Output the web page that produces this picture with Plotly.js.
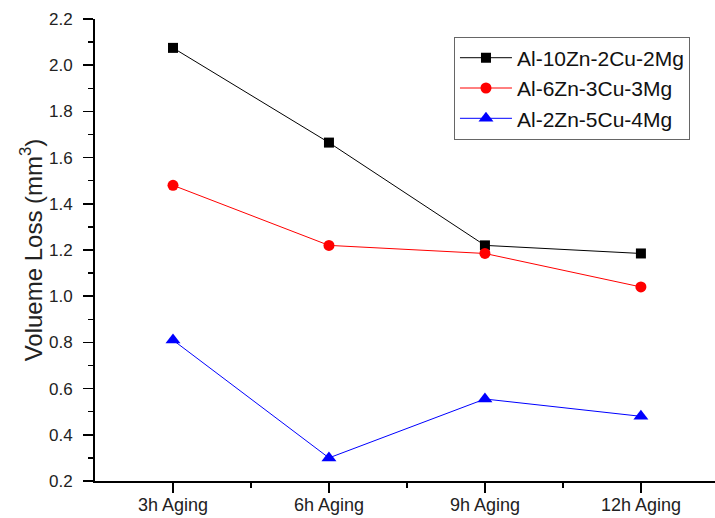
<!DOCTYPE html>
<html>
<head>
<meta charset="utf-8">
<script src="https://cdn.plot.ly/plotly-3.0.1.min.js"></script>
<style>html,body{margin:0;padding:0;background:#fff;}#chart{width:715px;height:518px;}</style>
</head>
<body>
<div id="chart"></div>
<script>
const categories = ["3h Aging", "6h Aging", "9h Aging", "12h Aging"];
const alloy1Name = "Al-10Zn-2Cu-2Mg";
const alloy1 = [2.075, 1.665, 1.22, 1.185];
const alloy2Name = "Al-6Zn-3Cu-3Mg";
const alloy2 = [1.48, 1.22, 1.185, 1.04];
const alloy3Name = "Al-2Zn-5Cu-4Mg";
const alloy3 = [0.81, 0.30, 0.555, 0.48];

const xIdx = categories.map((_, i) => i);
const font = "Liberation Sans, Arial, sans-serif";

const traces = [
  {x: xIdx, y: alloy1, name: alloy1Name, mode: "lines+markers",
   line: {color: "#000000", width: 1}, marker: {symbol: "square", size: 10, color: "#000000"}},
  {x: xIdx, y: alloy2, name: alloy2Name, mode: "lines+markers",
   line: {color: "#ff0000", width: 1}, marker: {symbol: "circle", size: 11, color: "#ff0000"}},
  {x: xIdx, y: alloy3, name: alloy3Name, mode: "lines+markers",
   line: {color: "#0000ff", width: 1}, marker: {symbol: "triangle-up", size: 13, color: "#0000ff"}}
];

const layout = {
  width: 715, height: 518,
  margin: {l: 95, r: 0, t: 19, b: 37},
  paper_bgcolor: "#fff", plot_bgcolor: "#fff",
  font: {family: font, color: "#222", size: 17},
  showlegend: true,
  legend: {x: 0.579, y: 0.962, xanchor: "left", yanchor: "top",
    bordercolor: "#666", borderwidth: 1, bgcolor: "#fff",
    font: {family: font, size: 21, color: "#111"}, itemwidth: 52, tracegroupgap: 0},
  xaxis: {
    range: [-0.5, 3.475], tickmode: "array", tickvals: xIdx, ticktext: categories,
    showline: true, linecolor: "#000", linewidth: 2, mirror: false,
    ticks: "outside", ticklen: 10, tickwidth: 1.5, tickcolor: "#000",
    showgrid: false, zeroline: false, ticklabelstandoff: -4,
    tickfont: {family: font, size: 18, color: "#222"},
    minor: {tickmode: "array", tickvals: [0.5, 1.5, 2.5], ticklen: 5, tickwidth: 1.5, tickcolor: "#000", showgrid: false}
  },
  yaxis: {
    range: [0.2, 2.2], tickmode: "linear", tick0: 0.2, dtick: 0.2, tickformat: ".1f",
    showline: true, linecolor: "#000", linewidth: 2,
    ticks: "outside", ticklen: 10, tickwidth: 1.5, tickcolor: "#000",
    showgrid: false, zeroline: false, ticklabelstandoff: 7,
    tickfont: {family: font, size: 17, color: "#222"},
    minor: {dtick: 0.1, tick0: 0.2, ticklen: 5, tickwidth: 1.5, tickcolor: "#000", showgrid: false},
    title: {text: "Volueme Loss (mm<sup>3</sup>)", font: {family: font, size: 24, color: "#222"}, standoff: 0}
  }
};

Plotly.newPlot("chart", traces, layout, {displayModeBar: false, staticPlot: true});
</script>
</body>
</html>
